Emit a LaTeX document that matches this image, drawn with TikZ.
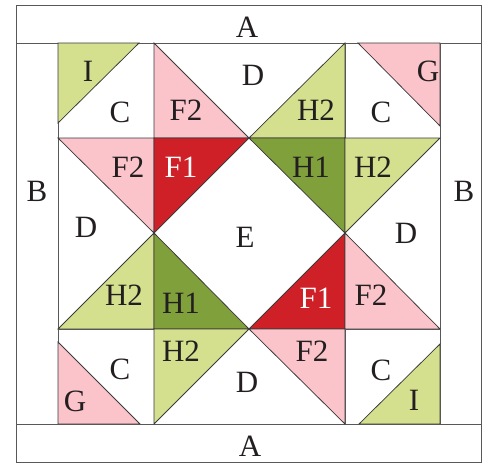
\documentclass[tikz,border=0pt]{standalone}
\usepackage{fontspec}
\setmainfont{Liberation Serif}
\definecolor{pinkf}{HTML}{FBC4CA}
\definecolor{redf}{HTML}{CF2027}
\definecolor{lgreen}{HTML}{D5E08E}
\definecolor{dgreen}{HTML}{80A03C}
\definecolor{txt}{HTML}{231F20}
\definecolor{edge}{HTML}{3A3A3A}
\tikzset{
  patch/.style={draw=edge,line width=0.75pt,line join=miter},
  frameline/.style={draw=edge!85,line width=1pt},
  lab/.style={inner sep=0pt,font=\fontsize{31}{31}\selectfont,text=txt},
  labw/.style={lab,text=white},
}
\begin{document}
\begin{tikzpicture}[x=1pt,y=-1pt]
\useasboundingbox (0,0) rectangle (487,463);
% grid
\coordinate (a1) at (58,43);\coordinate (a2) at (154,43);\coordinate (a3) at (249,43);\coordinate (a4) at (345,43);\coordinate (a5) at (440,43);
\coordinate (b1) at (58,138);\coordinate (b2) at (154,138);\coordinate (b3) at (249,138);\coordinate (b4) at (345,138);\coordinate (b5) at (440,138);
\coordinate (c1) at (58,233);\coordinate (c2) at (154,233);\coordinate (c3) at (249,233);\coordinate (c4) at (345,233);\coordinate (c5) at (440,233);
\coordinate (d1) at (58,329);\coordinate (d2) at (154,329);\coordinate (d3) at (249,329);\coordinate (d4) at (345,329);\coordinate (d5) at (440,329);
\coordinate (e1) at (58,424);\coordinate (e2) at (154,424);\coordinate (e3) at (249,424);\coordinate (e4) at (345,424);\coordinate (e5) at (440,424);
% frame
\draw[frameline] (16.5,5) rectangle (481.5,462);
\draw[frameline] (16.5,43) -- (481.5,43);
\draw[frameline] (16.5,424) -- (481.5,424);
\draw[frameline] (a1) -- (e1);
\draw[frameline] (a5) -- (e5);
\draw[frameline] (a2) -- (e2);
\draw[frameline] (a4) -- (e4);
\draw[frameline] (b1) -- (b5);
\draw[frameline] (d1) -- (d5);
% corner triangles
\draw[patch,fill=lgreen] (a1) -- (139,43) -- (58,123) -- cycle;
\draw[patch,fill=pinkf] (358,43) -- (a5) -- (440,126) -- cycle;
\draw[patch,fill=pinkf] (58,342) -- (140,424) -- (e1) -- cycle;
\draw[patch,fill=lgreen] (359,424) -- (440,344) -- (e5) -- cycle;
% pink / red diamond top-left
\draw[patch,fill=pinkf] (a2) -- (b3) -- (b2) -- cycle;
\draw[patch,fill=pinkf] (b1) -- (b2) -- (c2) -- cycle;
\draw[patch,fill=redf] (b2) -- (b3) -- (c2) -- cycle;
% green top-right
\draw[patch,fill=lgreen] (a4) -- (b4) -- (b3) -- cycle;
\draw[patch,fill=dgreen] (b3) -- (b4) -- (c4) -- cycle;
\draw[patch,fill=lgreen] (b4) -- (b5) -- (c4) -- cycle;
% green bottom-left
\draw[patch,fill=lgreen] (c2) -- (d2) -- (d1) -- cycle;
\draw[patch,fill=dgreen] (c2) -- (d3) -- (d2) -- cycle;
\draw[patch,fill=lgreen] (d2) -- (d3) -- (e2) -- cycle;
% pink / red bottom-right
\draw[patch,fill=redf] (c4) -- (d4) -- (d3) -- cycle;
\draw[patch,fill=pinkf] (c4) -- (d5) -- (d4) -- cycle;
\draw[patch,fill=pinkf] (d3) -- (d4) -- (e4) -- cycle;
% labels
\node[lab] (la1) at (247,27) {A};
\node[lab] (la2) at (250,446.5) {A};
\node[lab] (lb1) at (37,191) {B};
\node[lab] (lb2) at (464,191) {B};
\node[lab] (li1) at (88,71) {I};
\node[lab] (lc1) at (120,112) {C};
\node[lab] (lf1) at (186,110) {F2};
\node[lab] (ld1) at (253,75) {D};
\node[lab] (lh1) at (316,110) {H2};
\node[lab] (lc2) at (381,112) {C};
\node[lab] (lg1) at (428,71) {G};
\node[lab] (lf2) at (128,167) {F2};
\node[labw] (lr1) at (181,167) {F1};
\node[lab] (ln1) at (311,167) {H1};
\node[lab] (lh2) at (373,167) {H2};
\node[lab] (ld2) at (86,227) {D};
\node[lab] (le) at (245,237) {E};
\node[lab] (ld3) at (406,233) {D};
\node[lab] (lh3) at (124,295) {H2};
\node[lab] (ln2) at (181,303) {H1};
\node[labw] (lr2) at (316,298) {F1};
\node[lab] (lf3) at (371,295) {F2};
\node[lab] (lc3) at (120,369) {C};
\node[lab] (lh4) at (181,351) {H2};
\node[lab] (lf4) at (312,351) {F2};
\node[lab] (lc4) at (381,370) {C};
\node[lab] (lg2) at (75,401) {G};
\node[lab] (ld4) at (247,382) {D};
\node[lab] (li2) at (414,400) {I};
\end{tikzpicture}
\end{document}
